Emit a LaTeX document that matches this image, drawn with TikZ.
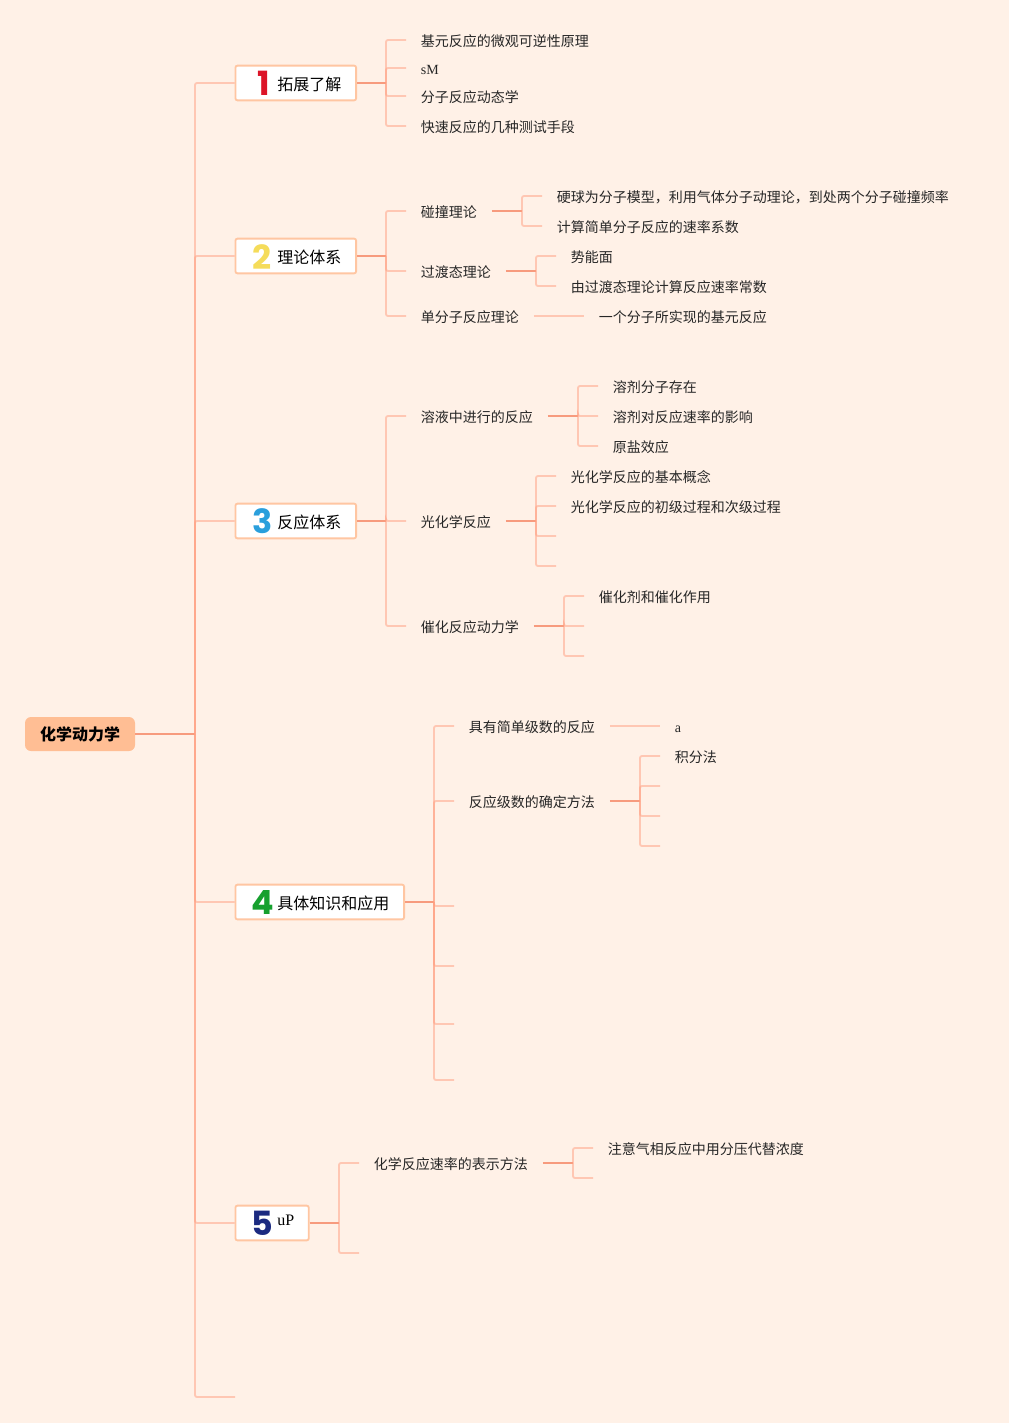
\documentclass[tikz,border=0pt]{standalone}
\usepackage{fontspec}
\setmainfont{Noto Sans CJK SC}
\newfontfamily\latinfont{Liberation Serif}
\newfontfamily\digitfont{Poppins}
\usetikzlibrary{positioning}
\definecolor{pagebg}{HTML}{FFF1E7}
\definecolor{rootfill}{HTML}{FFBE94}
\definecolor{boxline}{HTML}{FFC6A2}
\definecolor{linkdark}{HTML}{F79B7E}
\definecolor{linklight}{HTML}{FF9F80}
\definecolor{digitred}{HTML}{DC1428}
\definecolor{digityellow}{HTML}{F5DC5A}
\definecolor{digitblue}{HTML}{2A9FDC}
\definecolor{digitgreen}{HTML}{16A02E}
\definecolor{digitnavy}{HTML}{1B2A80}

\begin{document}
\begin{tikzpicture}[
        x=0.75pt, y=-0.75pt,
        % Node styles
        rootbox/.style={
                fill=rootfill, rounded corners=4.5pt, minimum width=82.5pt,
                minimum height=25.5pt, inner sep=0pt,
                font=\fontsize{12}{14}\selectfont\bfseries
            },
        topicbox/.style={
                draw=boxline, fill=white, line width=1.4pt, rounded corners=1.5pt,
                minimum height=26pt, inner sep=0pt, anchor=west
            },
        topictext/.style={
                inner sep=0pt, anchor=west, text height=9pt, text depth=2.5pt,
                font=\fontsize{12}{14}\selectfont
            },
        digit/.style={
                inner sep=0pt, font=\fontsize{25}{25}\digitfont\bfseries
            },
        leaf/.style={
                anchor=west, inner xsep=11pt, inner ysep=0pt,
                text height=11.8pt, text depth=2.2pt,
                font=\fontsize{10.5}{12}\selectfont, text=black!85
            },
        % Connector styles
        stem/.style={draw=linkdark, line width=1.4pt},
        twig/.style={draw=linklight, line width=1.4pt, draw opacity=0.5, rounded corners=1.5pt}
    ]

    %% ---- Page ----
    \fill[pagebg] (0,0) rectangle (1009,1423);
    \useasboundingbox (0,0) rectangle (1009,1423);

    %% ---- Root and trunk ----
    \node[rootbox] (root) at (80,734) {化学动力学};
    \coordinate (trunk) at (195,734);
    \coordinate (tail) at (235,1397);

    %% ---- Topic boxes ----
    \node[topicbox, minimum width=90.5pt] (topic1) at (234.5,83) {};
    \node[topicbox, minimum width=90.5pt] (topic2) at (234.5,256) {};
    \node[topicbox, minimum width=90.5pt] (topic3) at (234.5,521) {};
    \node[topicbox, minimum width=126.5pt] (topic4) at (234.5,902) {};
    \node[topicbox, minimum width=55pt] (topic5) at (234.5,1223) {};

    \node[digit, text=digitred] (digit1) at (263.5,83) {1};
    \node[digit, text=digityellow] (digit2) at (262.5,257) {2};
    \node[digit, text=digitblue] (digit3) at (262.5,521) {3};
    \node[digit, text=digitgreen] (digit4) at (262.5,902) {4};
    \node[digit, text=digitnavy] (digit5) at (262.5,1223) {5};

    \node[topictext] (text1) at (277,86) {拓展了解};
    \node[topictext] (text2) at (277,259) {理论体系};
    \node[topictext] (text3) at (277,524) {反应体系};
    \node[topictext] (text4) at (277,905) {具体知识和应用};
    \node[topictext, font=\fontsize{12}{14}\latinfont] (text5) at (277,1221) {uP};

    %% ---- Forks ----
    \coordinate (fork1) at (386,83);
    \coordinate (fork2) at (386,256);
    \coordinate (fork3) at (386,521);
    \coordinate (fork4) at (434,902);
    \coordinate (fork5) at (339,1223);

    %% ---- Topic 1 leaves ----
    \node[leaf] (a1) at (406,40) {基元反应的微观可逆性原理};
    \node[leaf, font=\fontsize{10.5}{12}\latinfont] (a2) at (406,68) {sM};
    \node[leaf] (a3) at (406,96) {分子反应动态学};
    \node[leaf] (a4) at (406,126) {快速反应的几种测试手段};

    %% ---- Topic 2 leaves ----
    \node[leaf] (b1) at (406,211) {碰撞理论};
    \node[leaf] (b2) at (406,271) {过渡态理论};
    \node[leaf] (b3) at (406,316) {单分子反应理论};
    \node[leaf] (b11) at (542,196) {硬球为分子模型，利用气体分子动理论，到处两个分子碰撞频率};
    \node[leaf] (b12) at (542,226) {计算简单分子反应的速率系数};
    \node[leaf] (b21) at (556,256) {势能面};
    \node[leaf] (b22) at (556,286) {由过渡态理论计算反应速率常数};
    \node[leaf] (b31) at (584,316) {一个分子所实现的基元反应};

    %% ---- Topic 3 leaves ----
    \node[leaf] (c1) at (406,416) {溶液中进行的反应};
    \node[leaf] (c2) at (406,521) {光化学反应};
    \node[leaf] (c3) at (406,626) {催化反应动力学};
    \node[leaf] (c11) at (598,386) {溶剂分子存在};
    \node[leaf] (c12) at (598,416) {溶剂对反应速率的影响};
    \node[leaf] (c13) at (598,446) {原盐效应};
    \node[leaf] (c21) at (556,476) {光化学反应的基本概念};
    \node[leaf] (c22) at (556,506) {光化学反应的初级过程和次级过程};
    \coordinate (c23) at (556,536);
    \coordinate (c24) at (556,566);
    \node[leaf] (c31) at (584,596) {催化剂和催化作用};
    \coordinate (c32) at (584,626);
    \coordinate (c33) at (584,656);

    %% ---- Topic 4 leaves ----
    \node[leaf] (d1) at (454,726) {具有简单级数的反应};
    \node[leaf] (d2) at (454,801) {反应级数的确定方法};
    \coordinate (d3) at (454,906);
    \coordinate (d4) at (454,966);
    \coordinate (d5) at (454,1024);
    \coordinate (d6) at (454,1080);
    \node[leaf, font=\fontsize{10.5}{12}\latinfont] (d11) at (660,726) {a};
    \node[leaf] (d21) at (660,756) {积分法};
    \coordinate (d22) at (660,786);
    \coordinate (d23) at (660,816);
    \coordinate (d24) at (660,846);

    %% ---- Topic 5 leaves ----
    \node[leaf] (e1) at (359,1163) {化学反应速率的表示方法};
    \coordinate (e2) at (359,1253);
    \node[leaf] (e11) at (593,1148) {注意气相反应中用分压代替浓度};
    \coordinate (e12) at (593,1178);

    %% ---- Sub-forks ----
    \coordinate (sub1) at (522,211);
    \coordinate (sub2) at (536,271);
    \coordinate (sub3) at (578,416);
    \coordinate (sub4) at (536,521);
    \coordinate (sub5) at (564,626);
    \coordinate (sub6) at (640,801);
    \coordinate (sub7) at (573,1163);

    %% ---- Trunk connectors ----
    \draw[stem] (root.east) -- (trunk);
    \draw[twig] (trunk) |- (topic1.west);
    \draw[twig] (trunk) |- (topic2.west);
    \draw[twig] (trunk) |- (topic3.west);
    \draw[twig] (trunk) |- (topic4.west);
    \draw[twig] (trunk) |- (topic5.west);
    \draw[twig] (trunk) |- (tail);

    %% ---- Topic to fork ----
    \draw[stem] (topic1.east) -- (fork1);
    \draw[stem] (topic2.east) -- (fork2);
    \draw[stem] (topic3.east) -- (fork3);
    \draw[stem] (topic4.east) -- (fork4);
    \draw[stem] (topic5.east) -- (fork5);

    %% ---- Fork to leaves ----
    \draw[twig] (fork1) |- (a1.west);
    \draw[twig] (fork1) |- (a2.west);
    \draw[twig] (fork1) |- (a3.west);
    \draw[twig] (fork1) |- (a4.west);

    \draw[twig] (fork2) |- (b1.west);
    \draw[twig] (fork2) |- (b2.west);
    \draw[twig] (fork2) |- (b3.west);

    \draw[twig] (fork3) |- (c1.west);
    \draw[twig] (fork3) |- (c2.west);
    \draw[twig] (fork3) |- (c3.west);

    \draw[twig] (fork4) |- (d1.west);
    \draw[twig] (fork4) |- (d2.west);
    \draw[twig] (fork4) |- (d3);
    \draw[twig] (fork4) |- (d4);
    \draw[twig] (fork4) |- (d5);
    \draw[twig] (fork4) |- (d6);

    \draw[twig] (fork5) |- (e1.west);
    \draw[twig] (fork5) |- (e2);

    %% ---- Leaf to sub-fork ----
    \draw[stem] (b1.east) -- (sub1);
    \draw[stem] (b2.east) -- (sub2);
    \draw[twig] (b3.east) -- (b31.west);
    \draw[stem] (c1.east) -- (sub3);
    \draw[stem] (c2.east) -- (sub4);
    \draw[stem] (c3.east) -- (sub5);
    \draw[twig] (d1.east) -- (d11.west);
    \draw[stem] (d2.east) -- (sub6);
    \draw[stem] (e1.east) -- (sub7);

    %% ---- Sub-fork to leaves ----
    \draw[twig] (sub1) |- (b11.west);
    \draw[twig] (sub1) |- (b12.west);
    \draw[twig] (sub2) |- (b21.west);
    \draw[twig] (sub2) |- (b22.west);
    \draw[twig] (sub3) |- (c11.west);
    \draw[twig] (sub3) |- (c12.west);
    \draw[twig] (sub3) |- (c13.west);
    \draw[twig] (sub4) |- (c21.west);
    \draw[twig] (sub4) |- (c22.west);
    \draw[twig] (sub4) |- (c23);
    \draw[twig] (sub4) |- (c24);
    \draw[twig] (sub5) |- (c31.west);
    \draw[twig] (sub5) |- (c32);
    \draw[twig] (sub5) |- (c33);
    \draw[twig] (sub6) |- (d21.west);
    \draw[twig] (sub6) |- (d22);
    \draw[twig] (sub6) |- (d23);
    \draw[twig] (sub6) |- (d24);
    \draw[twig] (sub7) |- (e11.west);
    \draw[twig] (sub7) |- (e12);

\end{tikzpicture}
\end{document}
